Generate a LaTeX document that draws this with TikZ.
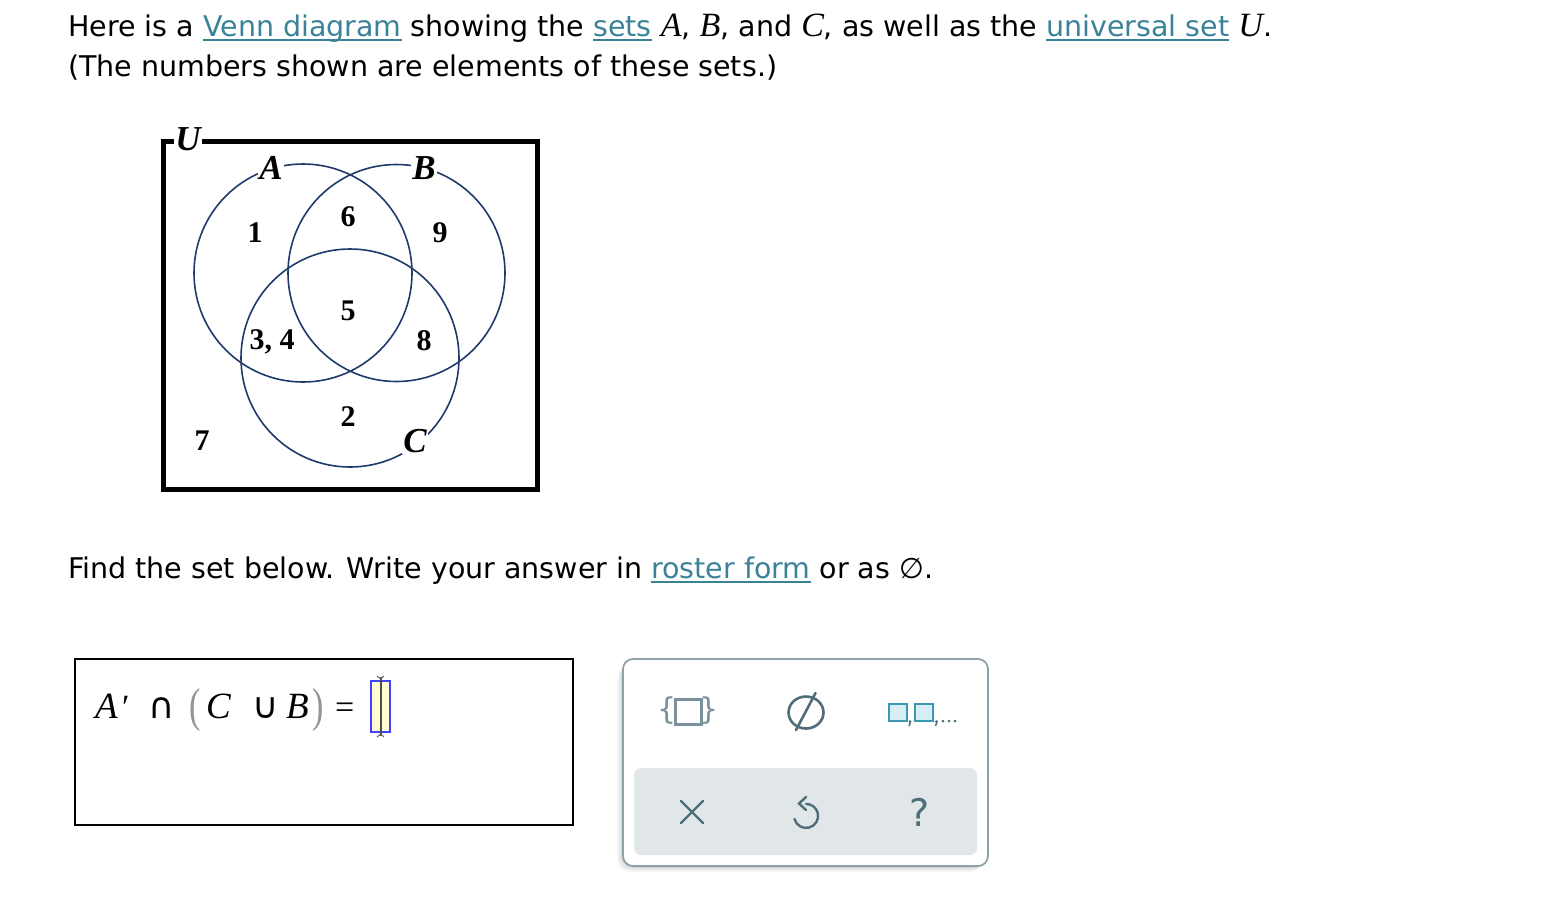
\documentclass[tikz,border=0pt]{standalone}
\usepackage{fontspec}
\setmainfont{DejaVu Sans}
\newfontfamily\serif{Liberation Serif}
\definecolor{link}{HTML}{3A8298}
\definecolor{venn}{HTML}{1E3A6A}
\definecolor{icon}{HTML}{4E6E79}
\definecolor{iconlight}{HTML}{7B929C}
\definecolor{tealc}{HTML}{3C97B2}
\definecolor{tealfill}{HTML}{D7EEF5}
\definecolor{panelc}{HTML}{8FA1AA}
\definecolor{panelfill}{HTML}{E1E6E9}
\newcommand\lnk[1]{{\color{link}\setbox0\hbox{#1}\rlap{\rule[-5pt]{\wd0}{1.6pt}}\box0}}
\newcommand\mv[1]{{\serif\itshape\fontsize{34}{34}\selectfont #1}}
\begin{document}
\begin{tikzpicture}[x=1pt,y=-1pt,
  txt/.style={anchor=base west, inner sep=0pt, font=\fontsize{28.5}{32}\selectfont},
  num/.style={inner sep=0pt, font=\serif\bfseries\fontsize{30}{30}\selectfont},
  setlbl/.style={fill=white, inner sep=1.5pt, font=\serif\bfseries\itshape\fontsize{35}{35}\selectfont},
  vc/.style={draw=venn, line width=1.6pt},
  fml/.style={anchor=base west, inner sep=0pt, font=\serif\itshape\fontsize{37}{38}\selectfont},
  op/.style={anchor=base west, inner sep=0pt, font=\fontsize{36}{36}\selectfont},
  par/.style={anchor=base west, inner sep=0pt, text=gray!85, font=\serif\fontsize{34}{34}\selectfont},
  ic/.style={draw=icon, line width=2.6pt, line cap=round}
]
\useasboundingbox (0,0) rectangle (1546,906);
% header text
\node[txt] (l1) at (68,36) {Here is a \lnk{Venn diagram} showing the \lnk{sets} \mv{A}, \mv{B}, and \mv{C}, as well as the \lnk{universal set} \mv{U}.};
\node[txt] (l2) at (68,76) {(The numbers shown are elements of these sets.)};
% Venn
\draw[line width=5pt] (163,141) rectangle (537,489);
\node[setlbl] (U) at (188,139) {U};
\draw[vc] (303,273) circle[radius=109pt];
\draw[vc] (396.5,273) circle[radius=108.5pt];
\draw[vc] (350,358) circle[radius=109pt];
\node[setlbl] (A) at (271,168) {A};
\node[setlbl] (B) at (424,168) {B};
\node[setlbl] (C) at (415,441) {C};
\node[num] (n1) at (255,233) {1};
\node[num] (n6) at (348,217) {6};
\node[num] (n9) at (440,233) {9};
\node[num] (n5) at (348,311) {5};
\node[num] (n34) at (272,342) {3, 4};
\node[num] (n8) at (424,341) {8};
\node[num] (n2) at (348,417) {2};
\node[num] (n7) at (202,441) {7};
% question
\node[txt] (q) at (68,578) {Find the set below. Write your answer in \lnk{roster form} or as ∅.};
% answer box
\draw[line width=2pt] (75,659) rectangle (573,825);
\node[fml] (fA) at (95,718) {A};
\node[anchor=base west, inner sep=0pt, font=\serif\fontsize{34}{34}\selectfont] (pr) at (122,718) {′};
\node[op] (cap) at (148,718) {∩};
\node[par] (lp) at (189,721) {\scalebox{1}[1.4]{(}};
\node[fml] (fC) at (206,718) {C};
\node[op] (cup) at (252,718) {∪};
\node[fml] (fB) at (286,718) {B};
\node[par] (rp) at (312,721) {\scalebox{1}[1.4]{)}};
\node[anchor=base west, inner sep=0pt, font=\serif\fontsize{34}{34}\selectfont] (eq) at (335,718) {=};
\draw[fill=yellow!18, draw=blue!75, line width=2pt] (371,681) rectangle (390,732);
\draw[black!70, line width=2pt] (380.5,677) -- (380.5,736);
\draw[black!60, line width=1pt] (377,676) -- (380.5,679) -- (384,676) (377,737) -- (380.5,734) -- (384,737);
% panel with shadow
\foreach \o/\a in {6/0.04,4/0.06,2/0.08}{
  \fill[black, opacity=\a, rounded corners=12pt] (623-\o,661+\o) rectangle (988-\o,866+\o);
}
\draw[draw=panelc, fill=white, line width=1.8pt, rounded corners=10pt] (623,659) rectangle (988,866);
\fill[panelfill, rounded corners=7pt] (634,768) rectangle (977,855);
% icon: {box}
\draw[iconlight, line width=3pt] (675,699) rectangle (701,724);
\node[inner sep=0pt, text=iconlight, font=\fontsize{30}{30}\selectfont] (lb) at (667,711) {\{};
\node[inner sep=0pt, text=iconlight, font=\fontsize{30}{30}\selectfont] (rb) at (709,711) {\}};
% icon: empty set
\draw[ic] (806,712.5) ellipse[x radius=17.5pt, y radius=16pt];
\draw[ic] (815.5,693) -- (796,730);
% icon: box,box,...
\draw[tealc, fill=tealfill, line width=2.6pt] (889,704) rectangle (907,721);
\draw[tealc, fill=tealfill, line width=2.6pt] (915,704) rectangle (933,721);
\fill[icon] (910,721.5) circle[radius=1.5pt] (936.5,721.5) circle[radius=1.5pt];
\draw[icon, line width=1.4pt] (910.5,722) -- (909,726) (937,722) -- (935.5,726);
\fill[icon] (943,721) circle[radius=1.5pt] (949,721) circle[radius=1.5pt] (955,721) circle[radius=1.5pt];
% icon: X
\draw[ic, line width=2.4pt] (681,801) -- (703,823) (703,801) -- (681,823);
% icon: undo
\draw[ic, line width=2.4pt] (794.5,819) arc[start angle=195, end angle=450, radius=12pt];
\draw[ic, line width=2.4pt] (806,797) -- (799,803.5) -- (806,810);
% icon: ?
\node[inner sep=0pt, text=icon, font=\fontsize{38}{38}\selectfont] (qm) at (920,812) {?};
\end{tikzpicture}
\end{document}
